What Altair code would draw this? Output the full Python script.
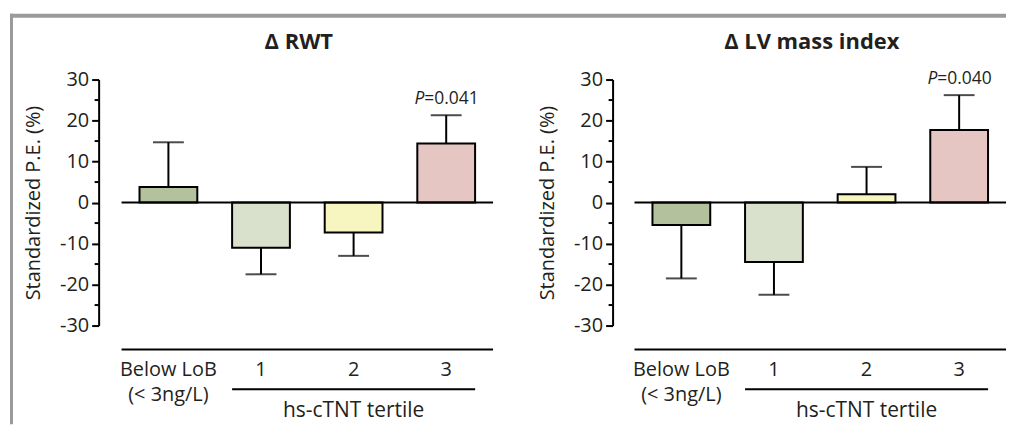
import altair as alt
import pandas as pd

# ---- data ----
categories = ["LoB", "1", "2", "3"]
cat_labels = ["Below LoB\n(< 3ng/L)", "1", "2", "3"]
bar_colors = ["#b3c29c", "#d9e0cc", "#f7f6c0", "#e6c6c3"]

rwt_values = [3.8, -11.0, -7.3, 14.4]
rwt_errors = [10.9, 6.5, 5.7, 6.9]

lvmi_values = [-5.5, -14.5, 2.0, 17.7]
lvmi_errors = [13.0, 8.0, 6.7, 8.5]

panel_titles = ["Δ RWT", "Δ LV mass index"]
p_values = ["=0.041", "=0.040"]
p_category = "3"

major_ticks = [-30, -20, -10, 0, 10, 20, 30]
minor_ticks = [-25, -15, -5, 5, 15, 25]

y_title = "Standardized P.E. (%)"
group_title = "hs-cTNT tertile"

FONT = "Open Sans"
INK = "#231f20"
W, H = 373, 247


def panel(values, errors, title, pval, offset, first):
    df = pd.DataFrame({
        "cat": categories,
        "label": cat_labels,
        "value": values,
        "end": [v + (e if v >= 0 else -e) for v, e in zip(values, errors)],
        "color": bar_colors,
    })
    xs = alt.Scale(domain=categories, paddingInner=0.376, paddingOuter=0.194)
    ys = alt.Scale(domain=[-30, 30], nice=False, zero=False)
    x = alt.X("cat:N", scale=xs, axis=None, sort=categories)
    base = alt.Chart(df)

    err = base.mark_rule(color="black", strokeWidth=2).encode(
        x=x, y=alt.Y("value:Q", scale=ys,
                     axis=alt.Axis(values=major_ticks, title=y_title, offset=offset,
                                   labelExpr="'' + datum.value",
                                   domainColor="black", domainWidth=2, tickColor="black",
                                   tickWidth=2, tickSize=7, labelFontSize=20, labelFont=FONT,
                                   labelColor=INK, labelPadding=3, grid=False,
                                   titleFont=FONT, titleFontSize=20, titleFontWeight="normal",
                                   titleColor=INK, titlePadding=16)),
        y2="end:Q")
    cap = base.mark_tick(color="black", thickness=2, size=31, orient="horizontal").encode(
        x=x, y=alt.Y("end:Q", scale=ys))
    bars = base.mark_bar(stroke="black", strokeWidth=2).encode(
        x=x, y=alt.Y("value:Q", scale=ys), y2=alt.datum(0),
        color=alt.Color("color:N", scale=None))
    zero = alt.Chart(pd.DataFrame({"z": [0]})).mark_rule(color="black", strokeWidth=2).encode(
        y=alt.Y("z:Q", scale=ys), x=alt.value(0), x2=alt.value(W))
    minor = alt.Chart(pd.DataFrame({"t": minor_ticks})).mark_rule(color="black", strokeWidth=2).encode(
        y=alt.Y("t:Q", scale=ys), x=alt.value(-offset - 4), x2=alt.value(-offset))
    line1 = alt.Chart(pd.DataFrame({"z": [0]})).mark_rule(color="black", strokeWidth=2).encode(
        x=alt.value(0), x2=alt.value(W), y=alt.value(271))
    line2 = alt.Chart(pd.DataFrame({"z": [0]})).mark_rule(color="black", strokeWidth=2).encode(
        x=alt.value(111), x2=alt.value(355), y=alt.value(311))
    labels = base.mark_text(font=FONT, fontSize=20, color=INK, baseline="alphabetic",
                            lineBreak="\n", lineHeight=25).encode(
        x=x, y=alt.value(298), text="label:N")
    gtitle = alt.Chart(pd.DataFrame({"t": [group_title]})).mark_text(
        font=FONT, fontSize=21, color=INK, baseline="alphabetic").encode(
        x=alt.value(233), y=alt.value(339), text="t:N")
    ptitle = alt.Chart(pd.DataFrame({"t": [title]})).mark_text(
        font=FONT, fontSize=22, fontWeight="bold", color=INK, baseline="middle").encode(
        x=alt.value(178), y=alt.value(-38), text="t:N")
    pdf = df[df["cat"] == p_category].assign(pv=pval, pl="P")
    pitalic = alt.Chart(pdf).mark_text(font=FONT, fontSize=17.5, fontStyle="italic", color=INK,
                                       align="right", baseline="middle", dx=-22, dy=-16).encode(
        x=x, y=alt.Y("end:Q", scale=ys), text="pl:N")
    ptext = alt.Chart(pdf).mark_text(font=FONT, fontSize=17.5, color=INK,
                                     align="left", baseline="middle", dx=-22, dy=-16).encode(
        x=x, y=alt.Y("end:Q", scale=ys), text="pv:N")
    layers = [err, cap, bars, zero, minor, line1, line2, labels, gtitle, ptitle, pitalic, ptext]
    if first:
        frame = alt.Chart(pd.DataFrame({"z": [0]}))
        top = frame.mark_rule(color="#9a9a9a", strokeWidth=4).encode(
            x=alt.value(-112), x2=alt.value(888), y=alt.value(-64))
        left = frame.mark_rule(color="#9a9a9a", strokeWidth=3).encode(
            x=alt.value(-110.5), y=alt.value(-66), y2=alt.value(346))
        layers = [top, left] + layers
    return alt.layer(*layers).properties(width=W, height=H)


left = panel(rwt_values, rwt_errors, panel_titles[0], p_values[0], 23, True)
right = panel(lvmi_values, lvmi_errors, panel_titles[1], p_values[1], 22, False)

chart = alt.hconcat(left, right, spacing=142, bounds="flush").properties(
    padding={"left": 0, "top": 3, "right": 0, "bottom": 0}
).configure(background="white").configure_view(stroke=None)

chart.save("out.html", embed_options={"renderer": "svg", "actions": False})
